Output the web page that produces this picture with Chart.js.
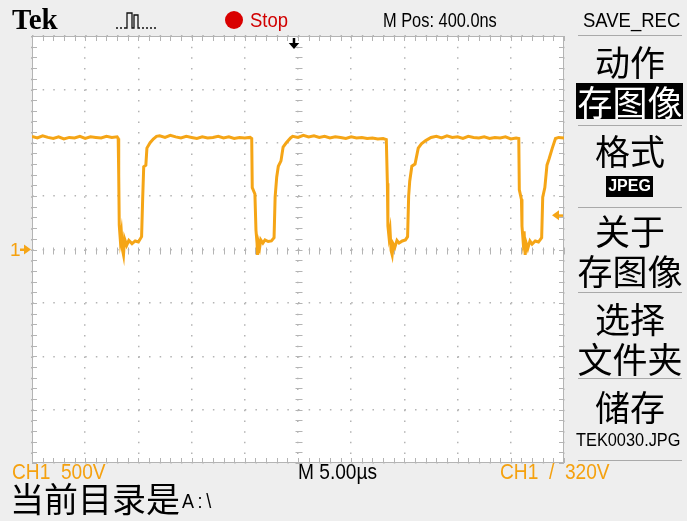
<!DOCTYPE html>
<html>
<head>
<meta charset="utf-8">
<script src="https://cdn.jsdelivr.net/npm/chart.js@4/dist/chart.umd.min.js"></script>
<style>
  html, body { margin: 0; padding: 0; }
  body { width: 687px; height: 521px; background: #eeeeee; position: relative; overflow: hidden; }
  #scope { position: absolute; left: 0; top: 0; }
  .t { position: absolute; white-space: nowrap; line-height: 1; }
  .lcd { font-family: "Liberation Sans", Arial, sans-serif; font-size: 21px; transform: scaleX(0.78); transform-origin: 0 0; }
  .cjk { font-family: "Noto Sans CJK SC", sans-serif; font-size: 35px; width: 112px; left: 574px; text-align: center; }
  .sep { position: absolute; left: 578px; width: 104px; height: 1px; background: #a9a9a9; }
  .orange { color: #f5a10f; }
</style>
</head>
<body>
<canvas id="scope" width="687" height="521"></canvas>

<!-- header -->
<div class="t" style="left:12px;top:5px;font-family:'Liberation Serif',serif;font-weight:bold;font-size:29px;">Tek</div>
<svg style="position:absolute;left:114px;top:9px" width="44" height="22">
  <path d="M2 19h2M6 19h2M10 19h3V4h5v15h2V6h4v13h2M28 19h2M32 19h2M36 19h2M40 19h2" fill="none" stroke="#111" stroke-width="1.3"/>
</svg>
<svg style="position:absolute;left:224px;top:10px" width="20" height="20"><circle cx="10" cy="10" r="9" fill="#d90000"/></svg>
<div class="t lcd" style="left:250px;top:9px;color:#d10000;transform:scaleX(0.88);">Stop</div>
<div class="t lcd" style="left:383px;top:9px;">M Pos: 400.0ns</div>
<div class="t lcd" style="left:583px;top:9px;transform:scaleX(0.88);">SAVE_REC</div>

<!-- right menu -->
<div class="sep" style="top:35px"></div>
<div class="t cjk" style="top:43px;">动作</div>
<div style="position:absolute;left:576px;top:83px;width:107px;height:36px;background:#000;"></div>
<div class="t cjk" style="top:83px;color:#fff;">存图像</div>
<div class="sep" style="top:125px"></div>
<div class="t cjk" style="top:132px;">格式</div>
<div style="position:absolute;left:606px;top:176px;width:47px;height:21px;background:#000;"></div>
<div class="t" style="left:606px;top:178px;width:47px;text-align:center;color:#fff;font-family:'Liberation Sans',sans-serif;font-weight:bold;font-size:16px;">JPEG</div>
<div class="sep" style="top:207px"></div>
<div class="t cjk" style="top:212px;">关于</div>
<div class="t cjk" style="top:252px;">存图像</div>
<div class="sep" style="top:292px"></div>
<div class="t cjk" style="top:300px;">选择</div>
<div class="t cjk" style="top:340px;">文件夹</div>
<div class="sep" style="top:378px"></div>
<div class="t cjk" style="top:388px;">储存</div>
<div class="t lcd" style="left:576px;top:430px;font-size:19px;transform:scaleX(0.86);">TEK0030.JPG</div>
<div class="sep" style="top:460px"></div>

<!-- footer -->
<div class="t lcd orange" style="left:12px;top:461px;font-size:22px;transform:scaleX(0.87);">CH1&nbsp;&nbsp;500V</div>
<div class="t lcd" style="left:298px;top:461px;font-size:22px;transform:scaleX(0.87);">M 5.00µs</div>
<div class="t lcd orange" style="left:500px;top:461px;font-size:22px;transform:scaleX(0.87);">CH1 &nbsp;/&nbsp; 320V</div>
<div class="t" style="left:10px;top:481px;font-family:'Noto Sans CJK SC',sans-serif;font-size:34px;">当前目录是</div>
<div class="t lcd" style="left:182px;top:491px;font-size:20px;letter-spacing:4px;transform:scaleX(0.9);">A:\</div>

<!-- channel marker -->
<div class="t orange" style="left:10px;top:240px;font-family:'Liberation Sans',sans-serif;font-size:19px;">1</div>

<script>
// ---- acquisition settings ----
const usPerDiv    = 5;       // M 5.00us
const voltsPerDiv = 500;     // CH1 500V
const trigLevel   = 320;     // CH1 / 320V
const trigPosUs   = -0.4;    // M Pos 400.0ns
const xRange      = [-25, 25];
const yRange      = [-2000, 2000];

// ---- CH1 trace (time in us, volts) ----
const timeUs = [
  -25, -24.5, -24, -23.5, -23, -22.5, -22, -21.5, -21, -20.5, -20, -19.5, -19, -18.5, -18, -17.5, -17,
  -16.9, -16.85, -16.8, -16.7, -16.6, -16.5, -16.4, -16.3, -16.1, -15.9, -15.6, -15.3, -15.0, -14.7, -14.6, -14.5, -14.3, -14.2, -13.9, -13.6, -13.3,
  -13, -12.5, -12, -11.5, -11, -10.5, -10, -9.5, -9, -8.5, -8, -7.5, -7, -6.5, -6, -5.5, -5, -4.5,
  -4.35, -4.3, -4.05, -3.95, -3.85, -3.8, -3.7, -3.6, -3.5, -3.3, -3.1, -2.8, -2.5, -2.25, -2.15, -2.0, -1.85, -1.6, -1.4, -1.1, -0.7,
  -0.5, 0, 0.5, 1, 1.5, 2, 2.5, 3, 3.5, 4, 4.5, 5, 5.5, 6, 6.5, 7, 7.5, 8,
  8.3, 8.4, 8.45, 8.55, 8.65, 8.75, 8.85, 8.95, 9.1, 9.3, 9.5, 9.8, 10.1, 10.3, 10.4, 10.5, 10.7, 11.0, 11.3, 11.6, 12.0,
  12.5, 13, 13.5, 14, 14.5, 15, 15.5, 16, 16.5, 17, 17.5, 18, 18.5, 19, 19.5, 20, 20.5,
  20.75, 20.8, 21.0, 21.05, 21.15, 21.25, 21.35, 21.45, 21.6, 21.8, 22.0, 22.3, 22.6, 22.9, 23.0, 23.2, 23.4, 23.6, 23.9, 24.2, 24.5, 25
];
const ch1Volts = [
  1060, 1045, 1065, 1050, 1040, 1055, 1035, 1050, 1045, 1060, 1040, 1055, 1050, 1045, 1060, 1050, 1055,
  1040, 700, 230, 90, 160, 0, -50, 100, 40, 85, 55, 80, 70, 120, 470, 775, 790, 950, 1000, 1035, 1060,
  1065, 1050, 1070, 1055, 1045, 1060, 1050, 1040, 1055, 1045, 1050, 1060, 1045, 1055, 1040, 1050, 1045, 1050,
  1040, 580, 520, 180, 60, -50, 60, 20, 90, 60, 90, 75, 80, 110, 490, 680, 780, 830, 960, 1000, 1045,
  1060, 1050, 1070, 1055, 1065, 1050, 1060, 1045, 1055, 1050, 1040, 1055, 1045, 1050, 1040, 1045, 1035, 1040,
  1030, 620, 220, 120, 180, -10, -50, 50, 20, 85, 60, 80, 90, 120, 500, 640, 780, 800, 950, 990, 1020,
  1050, 1060, 1045, 1065, 1050, 1055, 1040, 1060, 1050, 1045, 1055, 1040, 1050, 1045, 1055, 1035, 1045,
  1040, 560, 470, 220, 90, 170, -50, 60, 10, 80, 50, 80, 70, 110, 490, 580, 790, 850, 950, 1040, 1050, 1045
];

const TRACE = '#f5a516';
const GRID  = '#b4b4b4';

/* graticule: white screen, border, minor ticks, trigger markers */
const graticule = {
  id: 'graticule',
  beforeDraw(chart) {
    const { ctx, chartArea: a } = chart;
    ctx.save();
    ctx.fillStyle = '#ffffff';
    ctx.fillRect(a.left, a.top, a.right - a.left, a.bottom - a.top);
    ctx.restore();
  },
  beforeDatasetsDraw(chart) {
    const { ctx, chartArea: a, scales: { x, y } } = chart;
    const cx = Math.round(x.getPixelForValue(0)) + 0.5;
    const cy = Math.round(y.getPixelForValue(0)) + 0.5;

    ctx.save();
    ctx.strokeStyle = GRID;
    ctx.lineWidth = 1;
    ctx.strokeRect(a.left + 0.5, a.top + 0.5, a.right - a.left - 1, a.bottom - a.top - 1);

    ctx.beginPath();
    for (let t = xRange[0]; t <= xRange[1] + 1e-6; t += usPerDiv / 5) {
      const px = Math.round(x.getPixelForValue(t)) + 0.5;
      ctx.moveTo(px, a.top);    ctx.lineTo(px, a.top + 5);
      ctx.moveTo(px, a.bottom); ctx.lineTo(px, a.bottom - 5);
      ctx.moveTo(px, cy - 3);   ctx.lineTo(px, cy + 4);
    }
    for (let v = yRange[0]; v <= yRange[1] + 1e-6; v += voltsPerDiv / 5) {
      const py = Math.round(y.getPixelForValue(v)) + 0.5;
      ctx.moveTo(a.left, py);  ctx.lineTo(a.left + 5, py);
      ctx.moveTo(a.right, py); ctx.lineTo(a.right - 5, py);
      ctx.moveTo(cx - 3, py);  ctx.lineTo(cx + 4, py);
    }
    ctx.stroke();
    ctx.restore();
  },
  afterDraw(chart) {
    const { ctx, chartArea: a, scales: { x, y } } = chart;
    ctx.save();

    // trigger position (top, black)
    const tx = x.getPixelForValue(trigPosUs);
    ctx.fillStyle = '#000';
    ctx.fillRect(tx - 1, a.top + 2, 2.5, 6);
    ctx.beginPath();
    ctx.moveTo(tx - 5, a.top + 7);
    ctx.lineTo(tx + 5.5, a.top + 7);
    ctx.lineTo(tx + 0.25, a.top + 13);
    ctx.closePath();
    ctx.fill();

    // trigger level (right, orange)
    const ly = y.getPixelForValue(trigLevel);
    ctx.fillStyle = TRACE;
    ctx.beginPath();
    ctx.moveTo(a.right - 12, ly);
    ctx.lineTo(a.right - 5, ly - 5);
    ctx.lineTo(a.right - 5, ly + 5);
    ctx.closePath();
    ctx.fill();
    ctx.fillRect(a.right - 6, ly - 1, 5, 2.5);

    // ground marker (left, orange)
    const gy = y.getPixelForValue(0);
    ctx.beginPath();
    ctx.moveTo(a.left - 1, gy);
    ctx.lineTo(a.left - 8, gy - 5);
    ctx.lineTo(a.left - 8, gy + 5);
    ctx.closePath();
    ctx.fill();
    ctx.fillRect(a.left - 12, gy - 1, 6, 2.5);
    ctx.restore();
  }
};

const ctx = document.getElementById('scope').getContext('2d');
const scope = new Chart(ctx, {
  type: 'line',
  data: {
    datasets: [{
      label: 'CH1',
      data: timeUs.map((t, i) => ({ x: t, y: ch1Volts[i] })),
      borderColor: TRACE,
      borderWidth: 3,
      pointRadius: 0,
      tension: 0,
      fill: false
    }]
  },
  options: {
    responsive: false,
    animation: false,
    devicePixelRatio: 1,
    layout: { padding: { left: 32, top: 36, right: 123, bottom: 58 } },
    plugins: { legend: { display: false }, tooltip: { enabled: false } },
    scales: {
      x: {
        type: 'linear',
        min: xRange[0], max: xRange[1],
        ticks: { display: false, stepSize: usPerDiv },
        grid: { color: GRID, lineWidth: 1.5, drawTicks: false },
        border: { display: false, dash: [1.5, 9.18] }
      },
      y: {
        min: yRange[0], max: yRange[1],
        ticks: { display: false, stepSize: voltsPerDiv },
        grid: { color: GRID, lineWidth: 1.5, drawTicks: false },
        border: { display: false, dash: [1.5, 9.14] }
      }
    }
  },
  plugins: [graticule]
});
</script>
</body>
</html>
